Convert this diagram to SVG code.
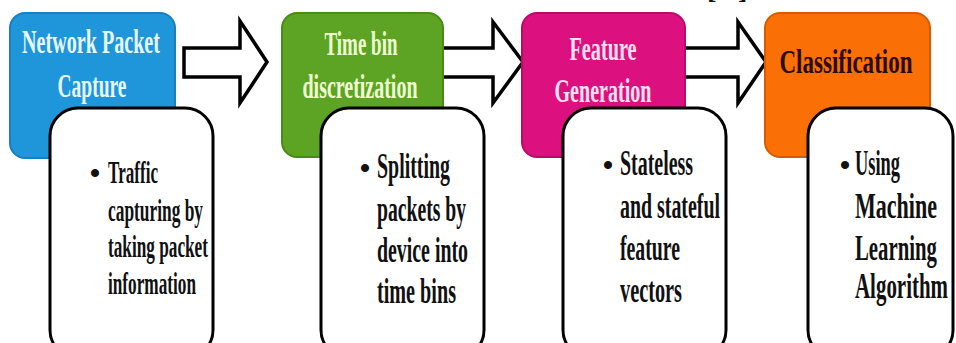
<svg xmlns="http://www.w3.org/2000/svg" width="956" height="343" viewBox="0 0 956 343">
<style>
.hd{font-family:"Liberation Serif","Times New Roman",serif;font-weight:bold;font-size:33px;text-anchor:middle}
.bd{font-family:"Liberation Serif","Times New Roman",serif;font-weight:bold;font-size:35px;fill:#111}
.b1{font-size:32px}
.bul{font-family:"Liberation Serif","Times New Roman",serif;font-weight:bold;font-size:30px;fill:#111;text-anchor:middle}
.note{fill:#fff;stroke:#000;stroke-width:3}
.arr{fill:#fff;stroke:#000;stroke-width:3.5;stroke-linejoin:miter}
</style>
<rect width="956" height="343" fill="#fff"/>
<text x="707" y="-2" class="hd" style="text-anchor:start;fill:#111;font-size:28px">[</text>
<text x="738" y="-2" class="hd" style="text-anchor:start;fill:#111;font-size:28px">]</text>
<g id="connectors">
<polygon class="arr" points="184,48 240,48 240,21 267,62 240,103 240,77 184,77"/>
<polygon class="arr" points="438,48 493,48 493,22 523,62 493,103 493,77 438,77"/>
<polygon class="arr" points="680,48 738,48 738,22 766,62 738,103 738,77 680,77"/>
</g>
<g id="node1">
<rect x="10" y="13" width="165" height="145" rx="15" fill="#1f95da" stroke="#1a7fc0" stroke-width="2"/>
<text x="91" y="53" class="hd" fill="#e6f8ff" textLength="138" lengthAdjust="spacingAndGlyphs">Network Packet</text>
<text x="92" y="97" class="hd" fill="#e6f8ff" textLength="69" lengthAdjust="spacingAndGlyphs">Capture</text>
<rect class="note" x="50" y="108" width="163" height="250" rx="28"/>
<text x="95" y="183" class="bul">•</text>
<text x="108" y="183" class="bd b1" textLength="50" lengthAdjust="spacingAndGlyphs">Traffic</text>
<text x="108" y="221" class="bd b1" textLength="95" lengthAdjust="spacingAndGlyphs">capturing by</text>
<text x="108" y="257" class="bd b1" textLength="100" lengthAdjust="spacingAndGlyphs">taking packet</text>
<text x="108" y="294" class="bd b1" textLength="88" lengthAdjust="spacingAndGlyphs">information</text>
</g>
<g id="node2">
<rect x="282" y="13" width="161" height="144" rx="15" fill="#5ea424" stroke="#4a8a16" stroke-width="2"/>
<text x="361" y="55" class="hd" fill="#f0ffd2" textLength="73" lengthAdjust="spacingAndGlyphs">Time bin</text>
<text x="360" y="98" class="hd" fill="#f0ffd2" textLength="115" lengthAdjust="spacingAndGlyphs">discretization</text>
<rect class="note" x="321" y="108" width="163" height="250" rx="28"/>
<text x="365" y="178" class="bul">•</text>
<text x="377" y="178" class="bd" textLength="73" lengthAdjust="spacingAndGlyphs">Splitting</text>
<text x="377" y="221" class="bd" textLength="89" lengthAdjust="spacingAndGlyphs">packets by</text>
<text x="377" y="262" class="bd" textLength="91" lengthAdjust="spacingAndGlyphs">device into</text>
<text x="377" y="303" class="bd" textLength="79" lengthAdjust="spacingAndGlyphs">time bins</text>
</g>
<g id="node3">
<rect x="522" y="13" width="163" height="144" rx="15" fill="#dc107e" stroke="#b80a68" stroke-width="2"/>
<text x="603" y="60" class="hd" fill="#ffe0f0" textLength="67" lengthAdjust="spacingAndGlyphs">Feature</text>
<text x="603" y="102" class="hd" fill="#ffe0f0" textLength="97" lengthAdjust="spacingAndGlyphs">Generation</text>
<rect class="note" x="563" y="108" width="163" height="250" rx="28"/>
<text x="608" y="175" class="bul">•</text>
<text x="620" y="175" class="bd" textLength="73" lengthAdjust="spacingAndGlyphs">Stateless</text>
<text x="620" y="218" class="bd" textLength="100" lengthAdjust="spacingAndGlyphs">and stateful</text>
<text x="620" y="260" class="bd" textLength="60" lengthAdjust="spacingAndGlyphs">feature</text>
<text x="620" y="302" class="bd" textLength="62" lengthAdjust="spacingAndGlyphs">vectors</text>
</g>
<g id="node4">
<rect x="765" y="13" width="165" height="144" rx="15" fill="#fb6f07" stroke="#d85a00" stroke-width="2"/>
<text x="846" y="73" class="hd" fill="#2a0c00" textLength="133" lengthAdjust="spacingAndGlyphs">Classification</text>
<rect class="note" x="808" y="108" width="145" height="250" rx="28"/>
<text x="845" y="175" class="bul">•</text>
<text x="855" y="175" class="bd" textLength="45" lengthAdjust="spacingAndGlyphs">Using</text>
<text x="855" y="218" class="bd" textLength="82" lengthAdjust="spacingAndGlyphs">Machine</text>
<text x="855" y="260" class="bd" textLength="82" lengthAdjust="spacingAndGlyphs">Learning</text>
<text x="855" y="298" class="bd" textLength="93" lengthAdjust="spacingAndGlyphs">Algorithm</text>
</g>
</svg>
